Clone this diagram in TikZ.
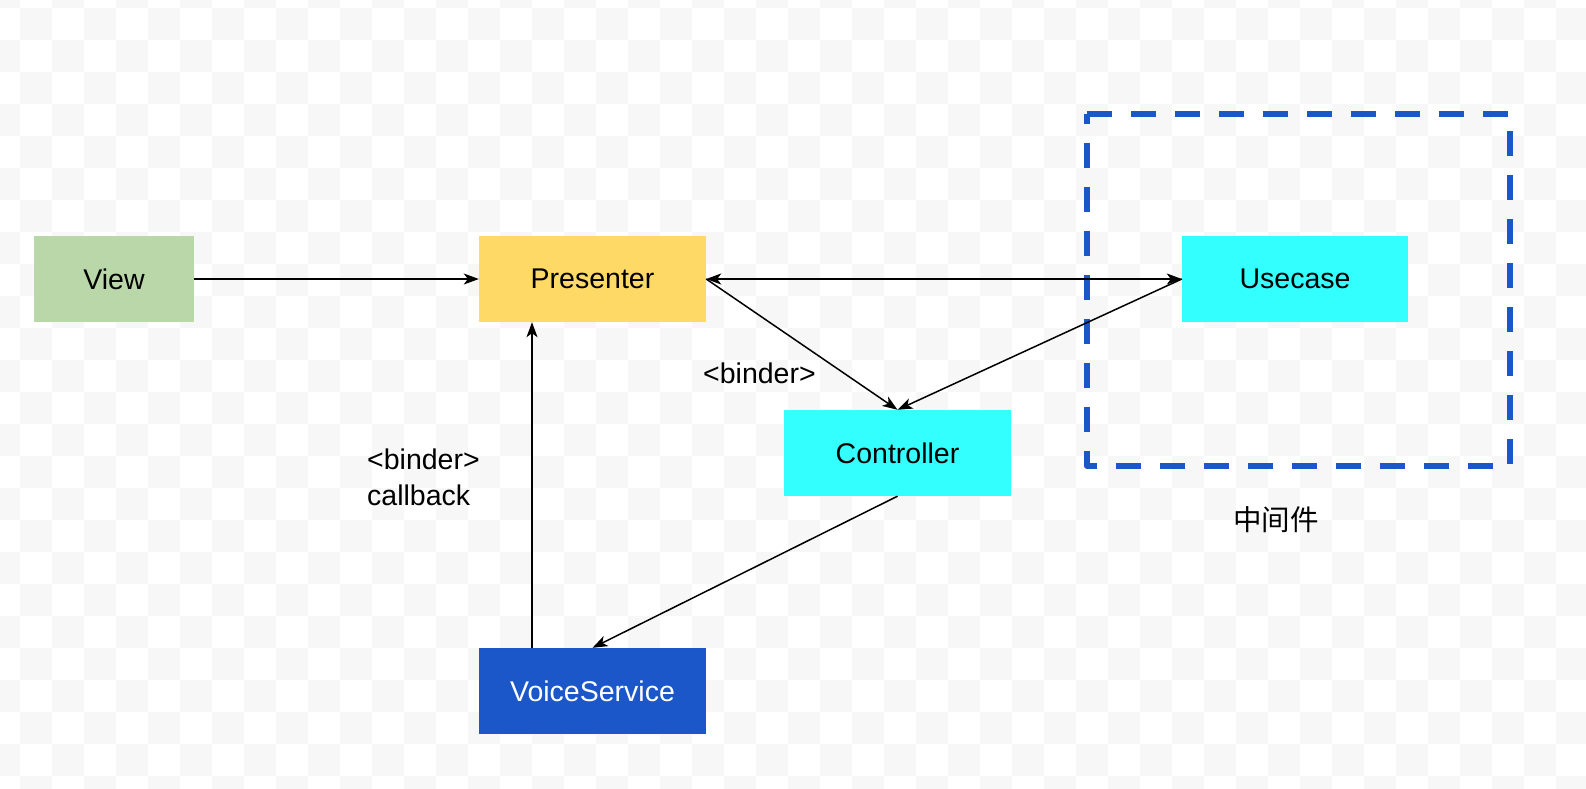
\documentclass[tikz,border=0pt]{standalone}
\usepackage{fontspec}
\setmainfont{Liberation Sans}
\newfontfamily\cjk{Noto Sans CJK SC}
\usetikzlibrary{arrows.meta}
\definecolor{bgchk}{RGB}{247,247,247}
\definecolor{viewgreen}{HTML}{B9D7A8}
\definecolor{presyellow}{HTML}{FFD966}
\definecolor{cyanbox}{HTML}{33FFFF}
\definecolor{vsblue}{HTML}{1C57C9}
\begin{document}
\begin{tikzpicture}[x=1pt,y=-1pt,
  box/.style={rectangle, inner sep=0pt, minimum width=227pt, minimum height=86pt, font=\fontsize{28.5}{36}\selectfont},
  tip/.style={Stealth[length=15pt,width=11pt,inset=4pt]},
  conn/.style={line width=1.5pt, -{Stealth[length=15pt,width=11pt,inset=4pt]}},
  conn2/.style={line width=1.5pt, {Stealth[length=15pt,width=11pt,inset=4pt]}-{Stealth[length=15pt,width=11pt,inset=4pt]}},
  lbl/.style={inner sep=0pt, font=\fontsize{28.5}{36}\selectfont, align=left},
  frame/.style={vsblue, line width=6pt, dash pattern=on 25pt off 19pt, line join=round}]
\useasboundingbox (0,0) rectangle (1586,788);
\begin{scope}
\clip (0,0) rectangle (1586,788);
\fill[white] (0,0) rectangle (1586,788);
\foreach \i in {-1,1,...,49} { \foreach \j in {-1,1,...,23} { \fill[bgchk] ({20+32*\i},{8+32*\j}) rectangle +(32,32); } }
\foreach \i in {0,2,...,48} { \foreach \j in {0,2,...,24} { \fill[bgchk] ({20+32*\i},{8+32*\j}) rectangle +(32,32); } }
\end{scope}
% group frame
\draw[frame] (1087,114) -- (1510,114) -- (1510,466) -- (1087,466) -- cycle;
% nodes
\node[box, fill=viewgreen, minimum width=160pt] (view) at (114,279) {View};
\node[box, fill=presyellow] (pres) at (592.5,279) {Presenter};
\node[box, fill=cyanbox, minimum width=226pt] (use) at (1295,279) {Usecase};
\node[box, fill=cyanbox] (ctrl) at (897.5,453) {Controller};
\node[box, fill=vsblue, text=white] (vs) at (592.5,691) {VoiceService};
% labels
\node[lbl, font=\cjk\fontsize{28.5}{36}\selectfont] (mwlabel) at (1276,520) {中间件};
\node[lbl, anchor=base west] (bind1) at (703,383) {<binder>};
\node[lbl, anchor=north west] (bind2) at (367,449) {<binder>\\callback};
% connectors
\draw[conn] (view.east) -- (pres.west);
\draw[conn2] (pres.east) -- (use.west);
\draw[conn] (pres.east) -- (ctrl.north);
\draw[conn] (use.west) -- (ctrl.north);
\draw[conn] (ctrl.south) -- (vs.north);
\draw[conn] ([xshift=-60.5pt]vs.north) -- ([xshift=-60.5pt]pres.south);
\end{tikzpicture}
\end{document}
